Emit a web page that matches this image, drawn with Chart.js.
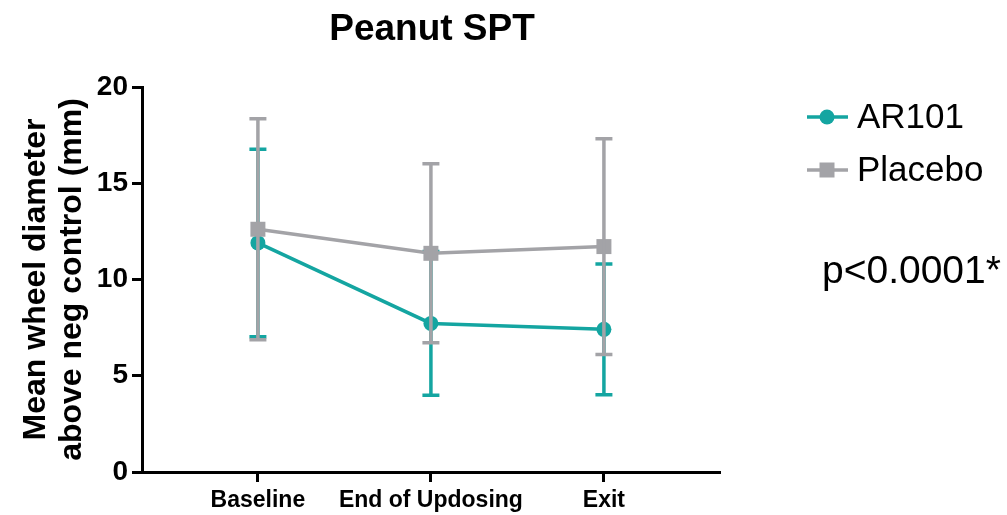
<!DOCTYPE html>
<html>
<head>
<meta charset="utf-8">
<script src="https://cdn.jsdelivr.net/npm/chart.js@4.4.1/dist/chart.umd.min.js"></script>
<style>
  html, body { margin: 0; padding: 0; background: #ffffff; }
  #wrap { width: 1007px; height: 515px; }
</style>
</head>
<body>
<div id="wrap"><canvas id="c" width="1007" height="515"></canvas></div>
<script>
const categories = ['Baseline', 'End of Updosing', 'Exit'];
const ar101Mean = [11.9, 7.72, 7.41];
const ar101SD = [4.87, 3.73, 3.40];
const placeboMean = [12.61, 11.36, 11.71];
const placeboSD = [5.74, 4.65, 5.60];
const yTicks = [0, 5, 10, 15, 20];

const TEAL = '#14a5a1';
const GREY = '#a3a3a7';
const FONT = '"Liberation Sans", Arial, Helvetica, sans-serif';

const sdByLabel = { 'AR101': ar101SD, 'Placebo': placeboSD };

const errorBars = {
  id: 'errorBars',
  afterDatasetDraw(chart, args) {
    const ds = chart.data.datasets[args.index];
    const sd = sdByLabel[ds.label];
    if (!sd) return;
    const ctx = chart.ctx;
    const xs = chart.scales.x, ys = chart.scales.y;
    ctx.save();
    ctx.strokeStyle = ds.borderColor;
    ctx.lineWidth = 3.5;
    ctx.lineCap = 'butt';
    ds.data.forEach((p, i) => {
      const x = xs.getPixelForValue(p.x);
      const yHi = ys.getPixelForValue(p.y + sd[i]);
      const yLo = ys.getPixelForValue(p.y - sd[i]);
      ctx.beginPath();
      ctx.moveTo(x, yHi); ctx.lineTo(x, yLo);
      ctx.moveTo(x - 8.5, yHi); ctx.lineTo(x + 8.5, yHi);
      ctx.moveTo(x - 8.5, yLo); ctx.lineTo(x + 8.5, yLo);
      ctx.stroke();
    });
    ctx.restore();
  }
};

const annotations = {
  id: 'annotations',
  afterDraw(chart) {
    const ctx = chart.ctx;
    ctx.save();
    ctx.fillStyle = '#000';
    ctx.textAlign = 'center';
    ctx.textBaseline = 'alphabetic';
    ctx.font = 'bold 37px ' + FONT;
    ctx.fillText('Peanut SPT', 432, 40);

    // legend
    const items = [
      { label: 'AR101', color: TEAL, shape: 'circle', y: 117 },
      { label: 'Placebo', color: GREY, shape: 'square', y: 170 }
    ];
    items.forEach(it => {
      ctx.strokeStyle = it.color;
      ctx.fillStyle = it.color;
      ctx.lineWidth = 3.5;
      ctx.beginPath();
      ctx.moveTo(807, it.y); ctx.lineTo(848, it.y);
      ctx.stroke();
      ctx.beginPath();
      if (it.shape === 'circle') {
        ctx.arc(827, it.y, 7.5, 0, Math.PI * 2);
      } else {
        ctx.rect(827 - 7.5, it.y - 7.5, 15, 15);
      }
      ctx.fill();
      ctx.fillStyle = '#000';
      ctx.textAlign = 'left';
      ctx.textBaseline = 'middle';
      ctx.font = '35px ' + FONT;
      ctx.fillText(it.label, 857, it.y + 1);
    });

    ctx.textAlign = 'left';
    ctx.textBaseline = 'alphabetic';
    ctx.font = '39px ' + FONT;
    ctx.fillText('p<0.0001*', 822, 283);
    ctx.restore();
  }
};

const toPoints = arr => arr.map((v, i) => ({ x: i, y: v }));

new Chart(document.getElementById('c'), {
  type: 'line',
  data: {
    datasets: [
      {
        label: 'AR101',
        data: toPoints(ar101Mean),
        borderColor: TEAL,
        backgroundColor: TEAL,
        borderWidth: 3.5,
        pointStyle: 'circle',
        pointRadius: 7.5,
        pointBorderWidth: 0,
        pointHoverRadius: 7.5,
        order: 2,
        clip: false
      },
      {
        label: 'Placebo',
        data: toPoints(placeboMean),
        borderColor: GREY,
        backgroundColor: GREY,
        borderWidth: 3.5,
        pointStyle: 'rect',
        pointRadius: 10.6,
        pointBorderWidth: 0,
        pointHoverRadius: 10.6,
        order: 1,
        clip: false
      }
    ]
  },
  options: {
    responsive: false,
    animation: false,
    devicePixelRatio: 1,
    layout: { padding: { left: 0, top: 87, right: 287, bottom: 0 } },
    plugins: {
      legend: { display: false },
      tooltip: { enabled: false },
      title: { display: false }
    },
    scales: {
      x: {
        type: 'linear',
        min: -0.67,
        max: 2.671,
        afterBuildTicks(scale) { scale.ticks = categories.map((_, i) => ({ value: i })); },
        afterFit(scale) { scale.height = 43; },
        ticks: {
          autoSkip: false,
          maxRotation: 0,
          color: '#000',
          padding: 5,
          font: { family: FONT, size: 23, weight: 'bold' },
          callback: (v) => categories[v] !== undefined ? categories[v] : ''
        },
        grid: {
          display: true,
          drawOnChartArea: false,
          drawTicks: true,
          tickLength: 10,
          tickWidth: 3,
          tickColor: '#000',
          color: '#000'
        },
        border: { display: true, color: '#000', width: 3 }
      },
      y: {
        type: 'linear',
        min: 0,
        max: 20,
        afterBuildTicks(scale) { scale.ticks = yTicks.map(v => ({ value: v })); },
        afterFit(scale) { scale.width = 142; },
        ticks: {
          color: '#000',
          padding: 4,
          font: { family: FONT, size: 28, weight: 'bold' }
        },
        grid: {
          display: true,
          drawOnChartArea: false,
          drawTicks: true,
          tickLength: 10,
          tickWidth: 3,
          tickColor: '#000',
          color: '#000'
        },
        border: { display: true, color: '#000', width: 3 },
        title: {
          display: true,
          text: ['Mean wheel diameter', 'above neg control (mm)'],
          color: '#000',
          padding: { top: 19, bottom: 0 },
          font: { family: FONT, size: 32, weight: 'bold', lineHeight: 1.1 }
        }
      }
    }
  },
  plugins: [errorBars, annotations]
});
</script>
</body>
</html>
